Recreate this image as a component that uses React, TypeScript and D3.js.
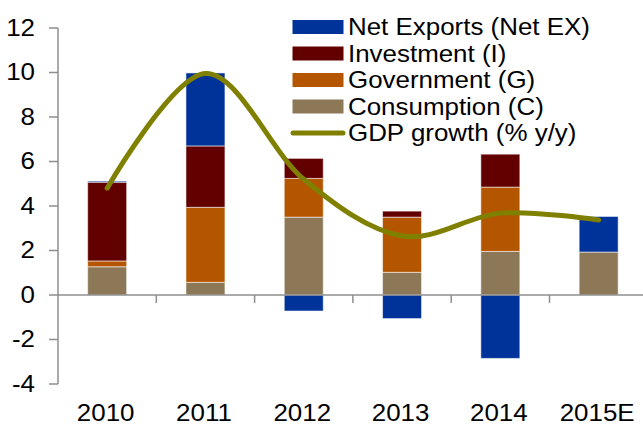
import React from "react";
import * as d3 from "d3";

const categories = ["2010", "2011", "2012", "2013", "2014", "2015E"];
const consumption = [1.27, 0.57, 3.5, 1.02, 1.96, 1.93];
const government = [0.26, 3.37, 1.74, 2.48, 2.89, 0];
const investment = [3.54, 2.76, 0.9, 0.27, 1.48, 0];
const netExports = [0.05, 3.28, -0.72, -1.06, -2.85, 1.6];
const gdpGrowth = [4.8, 9.95, 5.2, 2.65, 3.68, 3.37];
const yTicks = [-4, -2, 0, 2, 4, 6, 8, 10, 12];

const seriesKeys = ["C", "G", "I", "NX"];
const legendItems = [
  { label: "Net Exports (Net EX)", color: "#003399", type: "rect" },
  { label: "Investment (I)", color: "#620000", type: "rect" },
  { label: "Government (G)", color: "#B45500", type: "rect" },
  { label: "Consumption (C)", color: "#8C7857", type: "rect" },
  { label: "GDP growth (% y/y)", color: "#808000", type: "line" },
];
const colorMap: Record<string, string> = {
  NX: "#003399",
  I: "#620000",
  G: "#B45500",
  C: "#8C7857",
};

const SX = 1.08;

function T(props: { x: number; y: number; anchor?: string; dy?: string; children: any }) {
  return (
    <text
      transform={`translate(${props.x},${props.y}) scale(${SX},1)`}
      dy={props.dy}
      textAnchor={props.anchor || "start"}
      fontSize={24}
      fill="#000"
    >
      {props.children}
    </text>
  );
}

export default function App() {
  const W = 643;
  const H = 425;
  const axisX = 58;
  const x = d3.scaleBand<string>().domain(categories).range([axisX, axisX + 6 * 98.3]).paddingInner(0).paddingOuter(0);
  const y = d3.scaleLinear().domain([-4, 12]).range([384, 28]);
  const barW = 39;

  const rows = categories.map((c, i) => ({
    cat: c,
    C: consumption[i],
    G: government[i],
    I: investment[i],
    NX: netExports[i],
  }));
  const stacked = d3
    .stack<any>()
    .keys(seriesKeys)
    .offset(d3.stackOffsetDiverging)(rows);

  const cx = (c: string) => (x(c) as number) + x.bandwidth() / 2;
  const line = d3
    .line<number>()
    .x((_, i) => cx(categories[i]))
    .y((d) => y(d))
    .curve(d3.curveCardinal.tension(0));

  const font = "Liberation Sans, Arial, sans-serif";
  const axisColor = "#8e8e8e";
  const boundaries = d3.range(1, 7).map((i) => axisX + i * x.bandwidth());

  return (
    <svg width={W} height={H} style={{ position: "absolute", left: 0, top: 0 }} fontFamily={font}>
      <rect width={W} height={H} fill="#fff" />
      {/* bars */}
      {stacked.map((s) => (
        <g key={s.key}>
          {s.map((d, i) => {
            const y0 = y(d[0]);
            const y1 = y(d[1]);
            const h = Math.abs(y0 - y1);
            if (h < 0.01) return null;
            return (
              <rect
                key={i}
                x={cx(categories[i]) - barW / 2}
                y={Math.min(y0, y1)}
                width={barW}
                height={h}
                fill={colorMap[s.key]}
                stroke="#ffffff"
                strokeOpacity={0.55}
                strokeWidth={1}
              />
            );
          })}
        </g>
      ))}
      {/* y axis */}
      <line x1={axisX} x2={axisX} y1={y(12)} y2={y(-4)} stroke={axisColor} strokeWidth={1.5} />
      {yTicks.map((t) => (
        <g key={t}>
          <line x1={axisX - 9} x2={axisX} y1={y(t)} y2={y(t)} stroke={axisColor} strokeWidth={1.5} />
          <T x={35} y={y(t)} dy="0.33em" anchor="end">
            {t}
          </T>
        </g>
      ))}
      {/* x axis */}
      <line x1={axisX} x2={W} y1={y(0)} y2={y(0)} stroke={axisColor} strokeWidth={1.5} />
      {boundaries.map((b, i) => (
        <line key={i} x1={b} x2={b} y1={y(0)} y2={y(0) + 8} stroke={axisColor} strokeWidth={1.5} />
      ))}
      {categories.map((c) => (
        <T key={c} x={cx(c) - 1.5} y={421} anchor="middle">
          {c}
        </T>
      ))}
      {/* GDP line */}
      <path d={line(gdpGrowth) || ""} fill="none" stroke="#808000" strokeWidth={5} strokeLinecap="round" strokeLinejoin="round" />
      {/* legend */}
      {legendItems.map((it, i) => {
        const yc = 27 + i * 26.5;
        return (
          <g key={it.label}>
            {it.type === "rect" ? (
              <rect x={292.5} y={yc - 7} width={51} height={14} fill={it.color} />
            ) : (
              <line x1={293} x2={343} y1={yc} y2={yc} stroke={it.color} strokeWidth={5} strokeLinecap="round" />
            )}
            <T x={348} y={yc} dy="0.35em">
              {it.label}
            </T>
          </g>
        );
      })}
    </svg>
  );
}
